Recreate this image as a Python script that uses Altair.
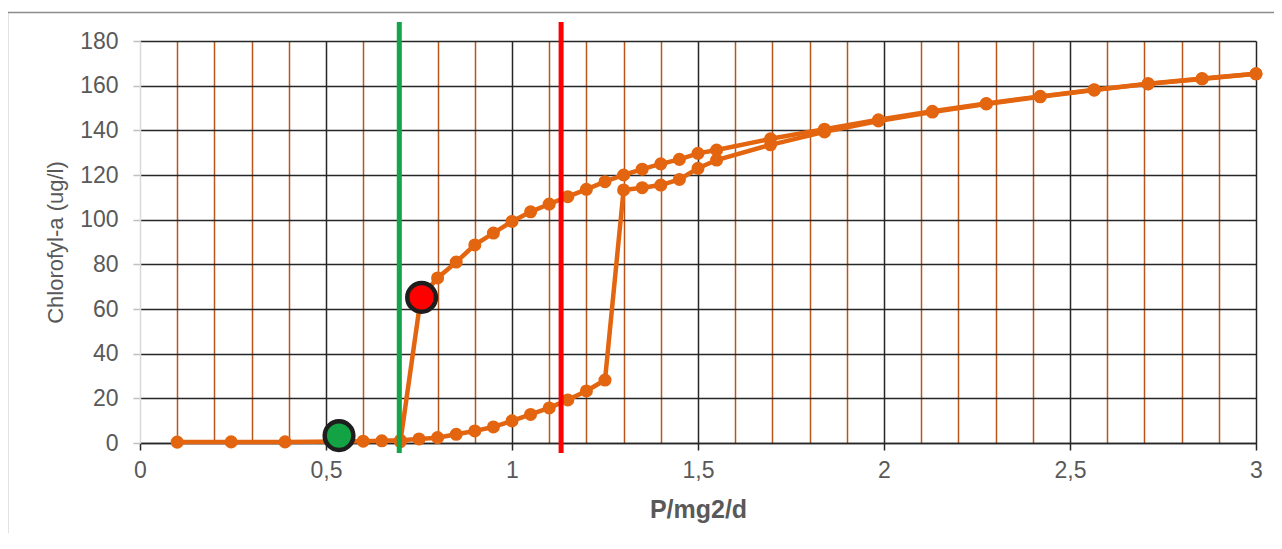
import altair as alt
import pandas as pd

# ---- data ----
lower_x = [0.1, 0.245, 0.39, 0.535, 0.6, 0.65, 0.7, 0.75, 0.8, 0.85, 0.9, 0.95,
           1.0, 1.05, 1.1, 1.15, 1.2, 1.25, 1.3, 1.35, 1.4, 1.45, 1.5, 1.55,
           1.695, 1.84, 1.985, 2.13, 2.275, 2.42, 2.565, 2.71, 2.855, 3.0]
lower_y = [0.4, 0.5, 0.5, 0.7, 0.8, 1.0, 1.2, 1.8, 2.4, 3.9, 5.4, 7.2,
           9.9, 12.8, 15.7, 19.3, 23.3, 28.2, 113.3, 114.3, 115.5, 118.0, 123.0, 126.7,
           133.5, 139.3, 144.2, 148.2, 151.8, 155.0, 158.0, 160.8, 163.0, 165.3]

upper_x = [3.0, 2.855, 2.71, 2.565, 2.42, 2.275, 2.13, 1.985, 1.84, 1.695,
           1.55, 1.5, 1.45, 1.4, 1.35, 1.3, 1.25, 1.2, 1.15, 1.1, 1.05, 1.0,
           0.95, 0.9, 0.85, 0.8, 0.755, 0.7]
upper_y = [165.3, 163.2, 160.9, 158.2, 155.2, 152.0, 148.5, 144.7, 140.5, 136.2,
           131.2, 129.7, 127.0, 125.0, 122.6, 120.0, 117.0, 113.6, 110.3, 107.0, 103.5, 99.2,
           94.0, 88.7, 81.0, 73.9, 65.2, 0.6]

threshold_x = [0.697, 1.132]
threshold_color = ["#13A54A", "#FF0000"]

marker_x = [0.535, 0.757]
marker_y = [3.3, 65.2]
marker_color = ["#13A345", "#FF0000"]

x_tick_values = [0.0, 0.1, 0.2, 0.3, 0.4, 0.5, 0.6, 0.7, 0.8, 0.9, 1.0, 1.1, 1.2, 1.3,
                 1.4, 1.5, 1.6, 1.7, 1.8, 1.9, 2.0, 2.1, 2.2, 2.3, 2.4, 2.5, 2.6, 2.7,
                 2.8, 2.9, 3.0]
y_tick_values = [0, 20, 40, 60, 80, 100, 120, 140, 160, 180]

# ---- tables ----
rows = []
for i, (xv, yv) in enumerate(zip(lower_x, lower_y)):
    rows.append({"x": xv, "y": yv, "branch": "lower", "seq": i})
for i, (xv, yv) in enumerate(zip(upper_x, upper_y)):
    rows.append({"x": xv, "y": yv, "branch": "upper", "seq": i})
df = pd.DataFrame(rows)

thr = pd.DataFrame({"x": threshold_x, "c": threshold_color})
mk = pd.DataFrame({"x": marker_x, "y": marker_y, "c": marker_color})

FONT = "Liberation Sans"
GRAY = "#595959"
ORANGE = "#E4650F"
MAJOR = "round(datum.value * 10) % 5 === 0"

x_scale = alt.Scale(domain=[0, 3], nice=False, zero=False)
y_scale = alt.Scale(domain=[0, 180], nice=False)

x_axis = alt.Axis(
    values=x_tick_values,
    grid=True,
    gridColor={"condition": {"test": MAJOR, "value": "#262626"}, "value": "#B8561B"},
    gridOpacity={"condition": {"test": "datum.value === 0", "value": 0}, "value": 1},
    gridWidth=1.5,
    domainColor="#262626",
    domainWidth=1.5,
    tickColor="#262626",
    tickWidth=1.5,
    tickSize=7,
    tickOpacity={"condition": {"test": MAJOR, "value": 1}, "value": 0},
    labelExpr=MAJOR + " ? replace(format(datum.value, '~g'), '.', ',') : ''",
    labelFont=FONT,
    labelFontSize=23,
    labelColor=GRAY,
    labelPadding=9,
    labelFlush=False,
    labelOverlap=False,
    title="P/mg2/d",
    titleFont=FONT,
    titleFontSize=25,
    titleFontWeight="bold",
    titleColor=GRAY,
    titlePadding=15,
)

y_axis = alt.Axis(
    values=y_tick_values,
    grid=True,
    gridColor="#262626",
    gridWidth=1.5,
    domainColor="#D9D9D9",
    domainWidth=1.5,
    tickColor="#BFBFBF",
    tickWidth=1.5,
    tickSize=7,
    labelFont=FONT,
    labelFontSize=23,
    labelColor=GRAY,
    labelPadding=15,
    title="Chlorofyl-a (ug/l)",
    titleFont=FONT,
    titleFontSize=22,
    titleFontWeight="normal",
    titleColor=GRAY,
    titlePadding=12,
)


def X(field="x"):
    return alt.X(f"{field}:Q", scale=x_scale, axis=x_axis, title="P/mg2/d")


def Y(field="y"):
    return alt.Y(f"{field}:Q", scale=y_scale, axis=y_axis, title="Chlorofyl-a (ug/l)")


# chart frame (left and top edges; the others fall outside the window)
frame_left = alt.Chart(alt.Data(values=[{}])).mark_rule(
    color="#8C8C8C", strokeWidth=1.5
).encode(x=alt.value(-132.5), y=alt.value(-28.5), y2=alt.value(500))

frame_top = alt.Chart(alt.Data(values=[{}])).mark_rule(
    color="#8C8C8C", strokeWidth=1.5
).encode(x=alt.value(-132.5), x2=alt.value(1140), y=alt.value(-28.5))

line = alt.Chart(df).mark_line(color=ORANGE, strokeWidth=4.5).encode(
    x=X(), y=Y(), detail="branch:N", order="seq:Q"
)

points = alt.Chart(df).mark_circle(color=ORANGE, opacity=1, size=170).encode(
    x=X(), y=Y()
)

rules = alt.Chart(thr).mark_rule(strokeWidth=5).encode(
    x=X(),
    y=alt.datum(188.5),
    y2=alt.datum(-4.5),
    color=alt.Color("c:N", scale=None),
)

markers = alt.Chart(mk).mark_point(
    shape="circle", filled=True, size=820, stroke="#1E1E1E", strokeWidth=4.5, opacity=1
).encode(
    x=X(), y=Y(), fill=alt.Fill("c:N", scale=None)
)

chart = alt.layer(frame_left, frame_top, line, points, rules, markers).properties(
    width=1116,
    height=402,
    autosize=alt.AutoSizeParams(type="none"),
    padding={"left": 132, "top": 33, "right": 18, "bottom": 90},
).configure_view(strokeOpacity=0).configure(background="white")

chart.save("out.html", embed_options={"renderer": "svg", "actions": False})
